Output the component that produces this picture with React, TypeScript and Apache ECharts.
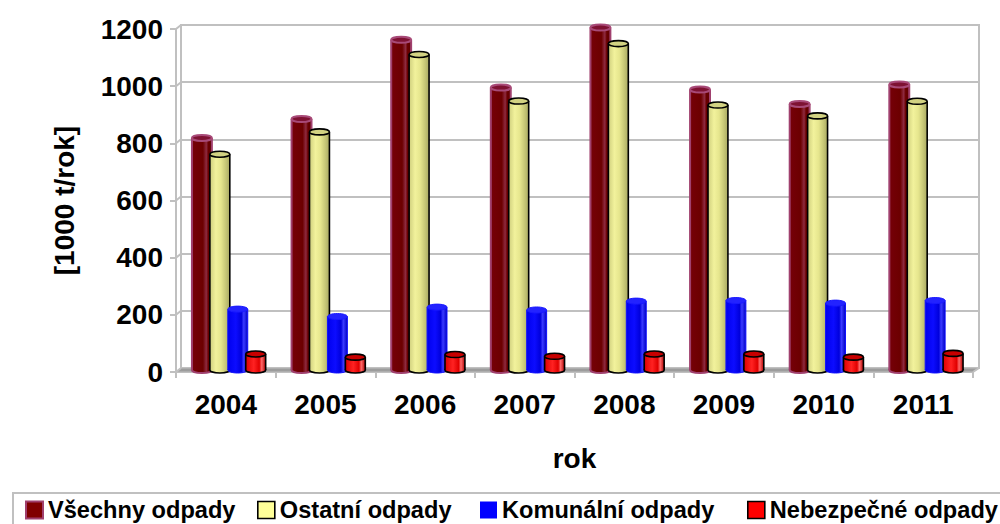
import React, { useEffect, useRef } from "react";
import * as echarts from "echarts";

const years = ["2004", "2005", "2006", "2007", "2008", "2009", "2010", "2011"];
const vsechnyOdpady = [812, 878, 1155, 988, 1198, 981, 931, 999];
const ostatniOdpady = [755, 833, 1104, 941, 1142, 927, 889, 940];
const komunalniOdpady = [213, 187, 220, 210, 241, 243, 234, 243];
const nebezpecneOdpady = [56, 45, 54, 48, 56, 56, 45, 58];
const yTicks = [0, 200, 400, 600, 800, 1000, 1200];

const seriesNames = ["Všechny odpady", "Ostatní odpady", "Komunální odpady", "Nebezpečné odpady"];

const FONT = '"Liberation Sans", Arial, sans-serif';

type Look = {
  stops: [number, string][];
  border: string;
  borderW: number;
  topFill: string;
  topStroke: string;
  legendFill: string;
  legendBorder: string;
  legendBorderW: number;
  offset: number;
};

const looks: Look[] = [
  {
    stops: [[0, "#760008"], [0.55, "#6c0000"], [0.72, "#8e2a40"], [0.82, "#6a0000"], [1, "#5e0000"]],
    border: "#a0406e", borderW: 2, topFill: "#7e1232", topStroke: "#a84a78",
    legendFill: "#800000", legendBorder: "#a0406e", legendBorderW: 2, offset: -0.27,
  },
  {
    stops: [[0, "#cfcf7e"], [0.3, "#f2f29c"], [0.55, "#e6e68e"], [0.8, "#c6c676"], [1, "#a8a862"]],
    border: "#000000", borderW: 1.6, topFill: "#d2d282", topStroke: "#000000",
    legendFill: "#ffff99", legendBorder: "#000000", legendBorderW: 1.6, offset: -0.09,
  },
  {
    stops: [[0, "#0000ee"], [0.4, "#0c0cff"], [0.68, "#0000dc"], [0.8, "#3a3aff"], [1, "#0000c4"]],
    border: "#1010ff", borderW: 1, topFill: "#2323ff", topStroke: "#1a1aff",
    legendFill: "#0000ff", legendBorder: "#0000ff", legendBorderW: 0, offset: 0.09,
  },
  {
    stops: [[0, "#dd0000"], [0.4, "#ff2222"], [0.68, "#e00000"], [0.8, "#ff6a6a"], [1, "#b00000"]],
    border: "#000000", borderW: 1.6, topFill: "#c80000", topStroke: "#000000",
    legendFill: "#ff0000", legendBorder: "#000000", legendBorderW: 1.6, offset: 0.27,
  },
];

const seriesData = [vsechnyOdpady, ostatniOdpady, komunalniOdpady, nebezpecneOdpady];

// layout constants (decoration)
const BACK = { left: 181, top: 25, right: 979, bottom: 368 };
const FRONT = { left: 176, top: 29, right: 973, bottom: 372 };
const MID = { left: 179, top: 27, right: 976, bottom: 370 };

function makeCylinder(look: Look) {
  return (params: any, api: any) => {
    const xi = api.value(0);
    const v = api.value(1);
    const top = api.coord([xi, v]);
    const base = api.coord([xi, 0]);
    const band = api.size([1, 0])[0];
    const w = band * 0.2;
    const cx = top[0] + look.offset * band;
    const ry = 3;
    const grad = { type: "linear", x: 0, y: 0, x2: 1, y2: 0, colorStops: look.stops.map(([o, c]) => ({ offset: o, color: c })) };
    return {
      type: "group",
      children: [
        {
          type: "ellipse",
          shape: { cx, cy: base[1], rx: w / 2, ry },
          style: { fill: grad, stroke: look.border, lineWidth: look.borderW },
        },
        {
          type: "rect",
          shape: { x: cx - w / 2, y: top[1], width: w, height: base[1] - top[1] },
          style: { fill: grad, stroke: null },
        },
        {
          type: "line",
          shape: { x1: cx - w / 2, y1: top[1], x2: cx - w / 2, y2: base[1] },
          style: { stroke: look.border, lineWidth: look.borderW },
        },
        {
          type: "line",
          shape: { x1: cx + w / 2, y1: top[1], x2: cx + w / 2, y2: base[1] },
          style: { stroke: look.border, lineWidth: look.borderW },
        },
        {
          type: "ellipse",
          shape: { cx, cy: top[1], rx: w / 2, ry },
          style: { fill: look.topFill, stroke: look.topStroke, lineWidth: look.borderW },
        },
      ],
    };
  };
}

const legendLefts = [25, 257, 480, 747];

export default function App() {
  const ref = useRef<HTMLDivElement>(null);
  useEffect(() => {
    if (!ref.current) return;
    const chart = echarts.init(ref.current, undefined, { renderer: "svg" });
    const grey = "#c0c0c0";
    const step = (BACK.bottom - BACK.top) / (yTicks.length - 1);
    const connectors = yTicks.map((_, k) => ({
      type: "line",
      z: 1,
      shape: { x1: FRONT.left, y1: FRONT.bottom - k * step, x2: BACK.left, y2: BACK.bottom - k * step },
      style: { stroke: grey, lineWidth: 2 },
    }));
    const option: any = {
      animation: false,
      backgroundColor: "#ffffff",
      textStyle: { fontFamily: FONT },
      grid: [
        {
          left: BACK.left, top: BACK.top, width: BACK.right - BACK.left, height: BACK.bottom - BACK.top,
          show: true, borderColor: grey, borderWidth: 2, backgroundColor: "transparent",
        },
        {
          left: FRONT.left, top: FRONT.top, width: FRONT.right - FRONT.left, height: FRONT.bottom - FRONT.top,
        },
        {
          left: MID.left, top: MID.top, width: MID.right - MID.left, height: MID.bottom - MID.top,
        },
      ],
      xAxis: [
        { type: "category", gridIndex: 0, data: years, show: false },
        {
          type: "category", gridIndex: 1, data: years,
          axisLine: { lineStyle: { color: grey, width: 2 } },
          axisTick: { show: true, length: 6, lineStyle: { color: grey, width: 2 } },
          axisLabel: { color: "#000", fontSize: 28, fontWeight: "bold", fontFamily: FONT, margin: 18 },
          name: "rok", nameLocation: "middle", nameGap: 72,
          nameTextStyle: { color: "#000", fontSize: 28, fontWeight: "bold", fontFamily: FONT },
        },
        { type: "category", gridIndex: 2, data: years, show: false },
      ],
      yAxis: [
        {
          type: "value", gridIndex: 0, min: 0, max: 1200, interval: 200,
          axisLine: { show: false }, axisTick: { show: false }, axisLabel: { show: false },
          splitLine: { show: true, lineStyle: { color: grey, width: 2 } },
        },
        {
          type: "value", gridIndex: 1, min: 0, max: 1200, interval: 200,
          axisLine: { show: true, lineStyle: { color: grey, width: 2 } },
          axisTick: { show: true, length: 6, lineStyle: { color: grey, width: 2 } },
          axisLabel: {
            color: "#000", fontSize: 28, fontWeight: "bold", fontFamily: FONT, margin: 13,
            formatter: (v: number) => String(v),
          },
          splitLine: { show: false },
          name: "[1000 t/rok]", nameLocation: "middle", nameGap: 98, nameRotate: 90,
          nameTextStyle: { color: "#000", fontSize: 28, fontWeight: "bold", fontFamily: FONT },
        },
        { type: "value", gridIndex: 2, min: 0, max: 1200, interval: 200, show: false },
      ],
      legend: seriesNames.map((name, i) => ({
        left: legendLefts[i],
        top: 498,
        padding: 0,
        itemWidth: 17,
        itemHeight: 17,
        itemGap: 0,
        selectedMode: false,
        textStyle: { color: "#000", fontSize: 23.6, fontWeight: "bold", fontFamily: FONT },
        data: [
          {
            name,
            icon: "rect",
            itemStyle: {
              color: looks[i].legendFill,
              borderColor: looks[i].legendBorder,
              borderWidth: looks[i].legendBorderW,
            },
          },
        ],
      })),
      graphic: [
        {
          type: "polygon", z: 1,
          shape: {
            points: [
              [FRONT.left, FRONT.bottom], [FRONT.right, FRONT.bottom],
              [BACK.right, BACK.bottom], [BACK.left, BACK.bottom],
            ],
          },
          style: { fill: "#9c9c9c", stroke: grey, lineWidth: 1 },
        },
        ...connectors,
        {
          type: "line", z: 1,
          shape: { x1: FRONT.right, y1: FRONT.bottom, x2: BACK.right, y2: BACK.bottom },
          style: { stroke: grey, lineWidth: 2 },
        },
        {
          type: "rect", z: 0,
          shape: { x: 13, y: 493, width: 1000, height: 60 },
          style: { fill: "none", stroke: grey, lineWidth: 2 },
        },
      ],
      series: seriesNames.map((name, i) => ({
        type: "custom",
        name,
        xAxisIndex: 2,
        yAxisIndex: 2,
        z: 5,
        itemStyle: { color: looks[i].legendFill },
        renderItem: makeCylinder(looks[i]),
        encode: { x: 0, y: 1 },
        data: seriesData[i].map((v, j) => [j, v]),
      })),
    };
    chart.setOption(option);
    return () => chart.dispose();
  }, []);
  return (
    <div
      ref={ref}
      style={{ position: "fixed", left: 0, top: 0, width: 1000, height: 524, background: "#fff" }}
    />
  );
}
